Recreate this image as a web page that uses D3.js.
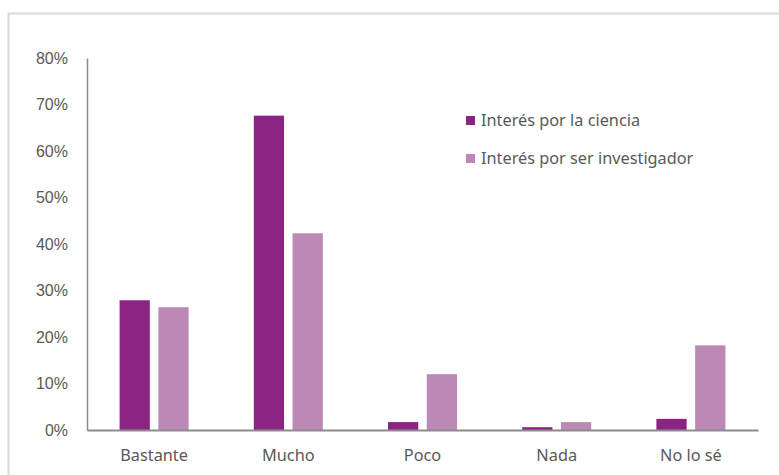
<!DOCTYPE html>
<html><head><meta charset="utf-8">
<script src="https://cdn.jsdelivr.net/npm/d3@7"></script>
<style>body{margin:0;background:#fff}</style>
</head><body>
<script>
const categories = ["Bastante", "Mucho", "Poco", "Nada", "No lo sé"];
const seriesNames = ["Interés por la ciencia", "Interés por ser investigador"];
const cienciaValues = [0.279, 0.676, 0.017, 0.006, 0.024];
const investigadorValues = [0.264, 0.423, 0.120, 0.017, 0.182];
const yTicks = [0, 0.1, 0.2, 0.3, 0.4, 0.5, 0.6, 0.7, 0.8];
const colors = ["#8B2482", "#BC88B5"];

(function () {
const W = 779, H = 475;
const svg = d3.select("body").append("svg").attr("width", W).attr("height", H);

// outer frame
svg.append("path").attr("d", "M8.5,475 L8.5,13.5 L779,13.5")
  .attr("fill", "none").attr("stroke", "#d9d9d9").attr("stroke-width", 2);

const mLeft = 87, mRight = 758, mTop = 58, mBottom = 430;
const y = d3.scaleLinear().domain([0, 0.8]).range([mBottom, mTop]);
const x0 = d3.scaleBand().domain(categories).range([mLeft, mRight]);
const groupW = 69;
const x1 = d3.scaleBand().domain(seriesNames).range([0, groupW]).paddingInner(0.22);

const data = categories.map((c, i) => ({cat: c, vals: [cienciaValues[i], investigadorValues[i]]}));

const g = svg.append("g");
g.selectAll("g.grp").data(data).join("g")
  .attr("transform", d => `translate(${x0(d.cat) + (x0.bandwidth() - groupW) / 2},0)`)
  .selectAll("rect").data(d => d.vals.map((v, k) => ({v, s: seriesNames[k], k})))
  .join("rect")
  .attr("x", d => x1(d.s)).attr("width", x1.bandwidth())
  .attr("y", d => y(d.v)).attr("height", d => mBottom - y(d.v))
  .attr("fill", d => colors[d.k]);

// y axis
const yAxis = d3.axisLeft(y).tickValues(yTicks).tickFormat(d3.format(".0%")).tickSize(0).tickPadding(19);
const ya = svg.append("g").attr("transform", `translate(${mLeft},0)`).call(yAxis);
ya.select(".domain").attr("stroke", "#8c8c8c").attr("stroke-width", 1.5);
ya.selectAll("text").attr("font-family", "Liberation Sans, Arial, sans-serif").attr("font-size", 16).attr("fill", "#595959");

// x axis
const xAxis = d3.axisBottom(x0).tickSize(0).tickPadding(19);
const xa = svg.append("g").attr("transform", `translate(0,${mBottom})`).call(xAxis);
xa.select(".domain").attr("stroke", "#8c8c8c").attr("stroke-width", 2);
xa.selectAll("text").attr("font-family", "Noto Sans, sans-serif").attr("font-size", 16.3).attr("fill", "#595959");

// legend
const lg = svg.append("g").attr("transform", "translate(466,116)");
seriesNames.forEach((s, i) => {
  const row = lg.append("g").attr("transform", `translate(0,${i * 38})`);
  row.append("rect").attr("width", 9).attr("height", 9).attr("fill", colors[i]);
  row.append("text").attr("x", 15).attr("y", 10).text(s)
    .attr("font-family", "Noto Sans, sans-serif").attr("font-size", 16.3).attr("fill", "#595959");
});
})();
</script>
</body></html>
